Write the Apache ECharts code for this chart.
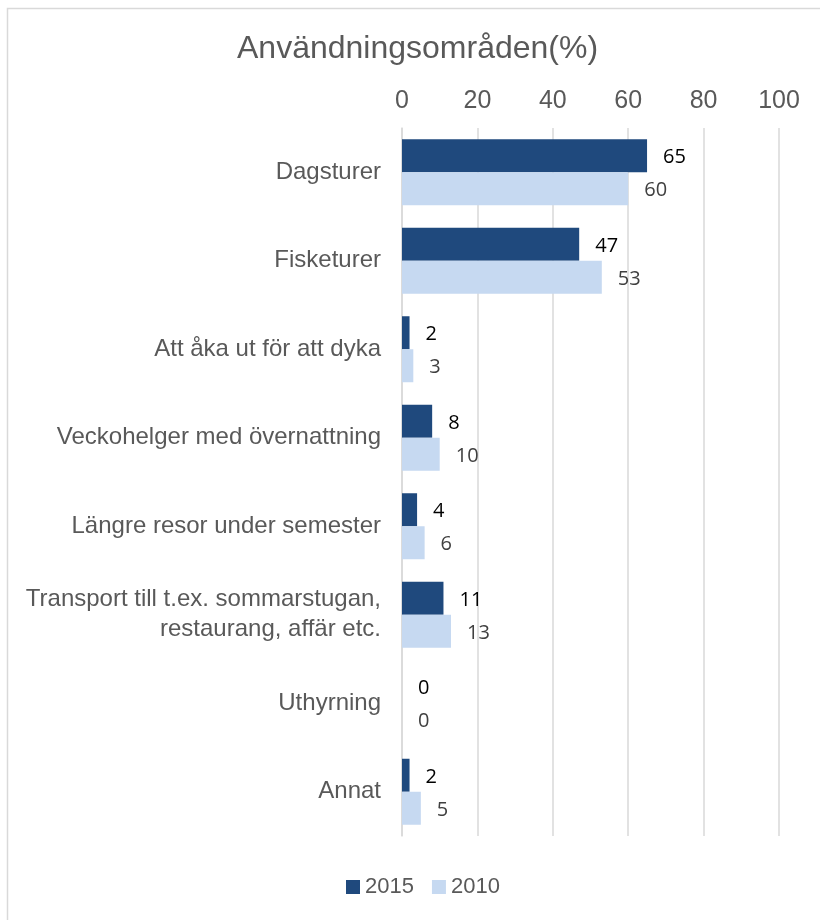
<!DOCTYPE html>
<html>
<head>
<meta charset="utf-8">
<script src="https://cdn.jsdelivr.net/npm/echarts@6/dist/echarts.min.js"></script>
<style>
html,body{margin:0;padding:0;background:#fff;}
#chart{width:820px;height:920px;}
</style>
</head>
<body>
<div id="chart"></div>
<script>
const categories = [
  "Dagsturer",
  "Fisketurer",
  "Att åka ut för att dyka",
  "Veckohelger med övernattning",
  "Längre resor under semester",
  "Transport till t.ex. sommarstugan,\nrestaurang, affär etc.",
  "Uthyrning",
  "Annat"
];
const values2015 = [65, 47, 2, 8, 4, 11, 0, 2];
const values2010 = [60, 53, 3, 10, 6, 13, 0, 5];
const seriesNames = ["2015", "2010"];
const titleText = "Användningsområden(%)";

const chart = echarts.init(document.getElementById('chart'), null, {renderer: 'canvas'});
const font = "Liberation Sans, Arial, sans-serif";
chart.setOption({
  animation: false,
  backgroundColor: '#fff',
  graphic: [{
    type: 'rect',
    shape: {x: 7.5, y: 8.5, width: 900, height: 1000},
    style: {fill: 'none', stroke: '#d9d9d9', lineWidth: 1.5},
    silent: true, z: -10
  }],
  title: {
    text: titleText,
    left: 232, top: 28,
    textStyle: {fontFamily: font, fontSize: 32, fontWeight: 'normal', color: '#595959'}
  },
  legend: {
    bottom: 17, left: 341,
    itemWidth: 14, itemHeight: 14, itemGap: 18,
    icon: 'rect',
    textStyle: {fontFamily: font, fontSize: 22, color: '#595959'},
    data: seriesNames
  },
  grid: {left: 402, right: 41, top: 128, bottom: 84, containLabel: false},
  xAxis: {
    type: 'value', position: 'top', min: 0, max: 100, interval: 20,
    axisLine: {show: false}, axisTick: {show: false},
    axisLabel: {fontFamily: font, fontSize: 25, color: '#595959', margin: 14},
    splitLine: {lineStyle: {color: '#d9d9d9', width: 1.5}}
  },
  yAxis: {
    type: 'category', inverse: true, data: categories,
    axisLine: {show: true, lineStyle: {color: '#d9d9d9', width: 1.5}},
    axisTick: {show: false},
    axisLabel: {fontFamily: font, fontSize: 24, color: '#595959', margin: 21, align: 'right', lineHeight: 30}
  },
  series: [
    {
      name: seriesNames[0], type: 'bar', data: values2015,
      barWidth: 33, barGap: '0%',
      itemStyle: {color: '#1f497d'},
      label: {show: true, position: 'right', distance: 16, offset: [0, 2], fontFamily: "Open Sans, sans-serif", fontSize: 20, color: '#000'}
    },
    {
      name: seriesNames[1], type: 'bar', data: values2010,
      barWidth: 33, barGap: '0%',
      itemStyle: {color: '#c6d9f1'},
      label: {show: true, position: 'right', distance: 16, offset: [0, 2], fontFamily: "Open Sans, sans-serif", fontSize: 20, color: '#404040'}
    }
  ]
});
</script>
</body>
</html>
